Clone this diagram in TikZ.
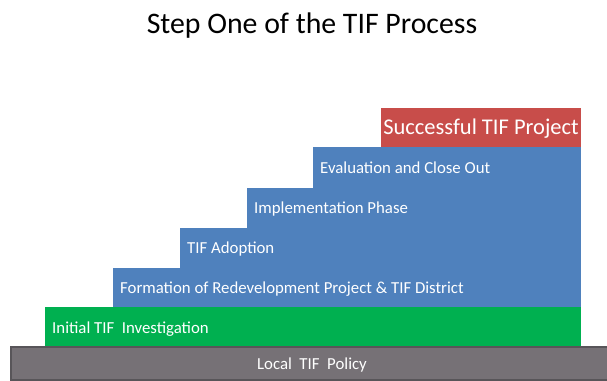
\documentclass[tikz,border=0pt]{standalone}
\usepackage{fontspec}
\setmainfont{Carlito}
\definecolor{stepblue}{RGB}{79,129,189}
\definecolor{stepgreen}{RGB}{0,176,80}
\definecolor{stepred}{RGB}{200,77,74}
\definecolor{stepgray}{RGB}{118,113,118}
\definecolor{stepgrayedge}{RGB}{88,85,89}
\begin{document}
\begin{tikzpicture}[x=1pt,y=-1pt,
  stepbox/.style={anchor=north west, inner sep=0pt, outer sep=0pt, minimum height=40pt},
  steplabel/.style={anchor=west, inner sep=0pt, text=white, font=\fontsize{16.8}{19}\selectfont}]
\useasboundingbox (0,0) rectangle (607,380);
\node[font=\fontsize{29.8}{34}\selectfont, anchor=base] (title) at (312,33) {Step One of the TIF Process};
% red (top)
\node[stepbox, fill=stepred, minimum width=200pt, minimum height=42pt] (red) at (381,108) {};
\node[text=white, font=\fontsize{22.5}{26}\selectfont, inner sep=0pt] (redlbl) at (481,129) {Successful TIF Project};
% blue steps (each reaches down to the green step)
\node[stepbox, fill=stepblue, minimum width=268pt, minimum height=160pt] (eval) at (313,147) {};
\node[stepbox, fill=stepblue, minimum width=334pt, minimum height=119.5pt] (impl) at (247,187.5) {};
\node[stepbox, fill=stepblue, minimum width=401pt, minimum height=79.5pt] (adopt) at (180,227.5) {};
\node[stepbox, fill=stepblue, minimum width=468pt, minimum height=40.5pt] (form) at (113,267.5) {};
\node[steplabel] (evallbl) at (320,168) {Evaluation and Close Out};
\node[steplabel] (impllbl) at (254,209) {Implementation Phase};
\node[steplabel] (adoptlbl) at (187,249) {TIF Adoption};
\node[steplabel] (formlbl) at (120,289) {Formation of Redevelopment Project \& TIF District};
% green
\node[stepbox, fill=stepgreen, minimum width=536pt, minimum height=41pt] (green) at (45,307) {};
\node[steplabel] (greenlbl) at (52,329) {Initial TIF~ Investigation};
% gray base
\node[stepbox, fill=stepgray, draw=stepgrayedge, line width=1.5pt, minimum width=603pt, minimum height=33pt] (base) at (11,347) {};
\node[steplabel, anchor=center] (baselbl) at (312,365) {Local~ TIF~ Policy};
\end{tikzpicture}
\end{document}
